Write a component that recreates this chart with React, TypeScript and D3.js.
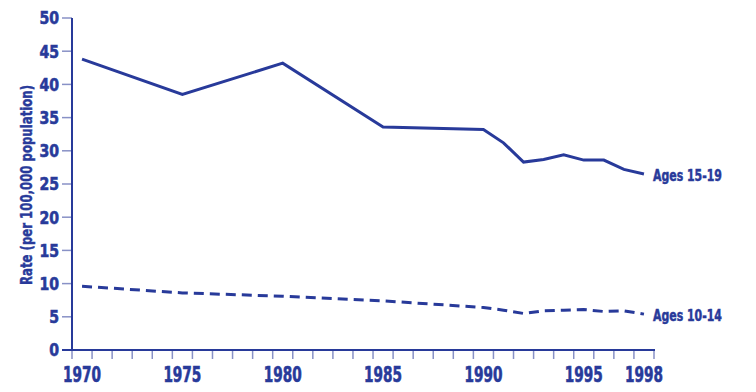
import React, { useEffect, useRef } from 'react';
import * as d3 from 'd3';

const years = [1970, 1975, 1980, 1985, 1990, 1991, 1992, 1993, 1994, 1995, 1996, 1997, 1998];
const ages1519 = [43.8, 38.5, 43.2, 33.6, 33.2, 31.2, 28.3, 28.7, 29.4, 28.6, 28.6, 27.2, 26.5];
const ages1014 = [9.6, 8.6, 8.1, 7.4, 6.4, 6.0, 5.5, 5.9, 6.0, 6.1, 5.8, 5.9, 5.4];
const yTicks = [0, 5, 10, 15, 20, 25, 30, 35, 40, 45, 50];
const xLabels = [1970, 1975, 1980, 1985, 1990, 1995, 1998];
const seriesLabels = ['Ages 15-19', 'Ages 10-14'];

const BLUE = '#283a9a';
const TICK = '#8891c6';
const FONT = '"DejaVu Sans Condensed", "Liberation Sans Narrow", sans-serif';

export default function App() {
  const ref = useRef<SVGSVGElement>(null);

  useEffect(() => {
    const svg = d3.select(ref.current);
    svg.selectAll('*').remove();

    const x = d3.scaleLinear().domain([1970, 1999]).range([72, 654]);
    const y = d3.scaleLinear().domain([0, 50]).range([350, 18]);

    // heavier look for the condensed labels
    const heavy = (sel: any) => sel
      .attr('font-family', FONT)
      .attr('font-weight', 'bold')
      .attr('fill', BLUE)
      .attr('stroke', BLUE)
      .attr('stroke-width', 0.6)
      .attr('lengthAdjust', 'spacingAndGlyphs');

    // y ticks
    svg.append('g')
      .selectAll('line')
      .data(yTicks)
      .join('line')
      .attr('x1', 62).attr('x2', 72)
      .attr('y1', d => y(d)).attr('y2', d => y(d))
      .attr('stroke', TICK).attr('stroke-width', 1.5);

    svg.append('g')
      .selectAll('text')
      .data(yTicks)
      .join('text')
      .attr('x', 59)
      .attr('y', d => y(d))
      .attr('dy', '0.36em')
      .attr('text-anchor', 'end')
      .attr('font-size', 18)
      .attr('textLength', d => String(d).length * 9.8)
      .call(heavy)
      .text(d => d);

    // x ticks, one per year
    svg.append('g')
      .selectAll('line')
      .data(d3.range(1970, 2000))
      .join('line')
      .attr('x1', d => x(d)).attr('x2', d => x(d))
      .attr('y1', 350).attr('y2', 359)
      .attr('stroke', TICK).attr('stroke-width', 1.5);

    svg.append('g')
      .selectAll('text')
      .data(xLabels)
      .join('text')
      .attr('x', d => x(d + 0.5))
      .attr('y', 382)
      .attr('text-anchor', 'middle')
      .attr('font-size', 20.5)
      .attr('textLength', 38)
      .call(heavy)
      .text(d => d);

    // axes lines
    svg.append('line')
      .attr('x1', 72).attr('x2', 72).attr('y1', 18).attr('y2', 351)
      .attr('stroke', BLUE).attr('stroke-width', 2);
    svg.append('line')
      .attr('x1', 62).attr('x2', 655).attr('y1', 350).attr('y2', 350)
      .attr('stroke', BLUE).attr('stroke-width', 1.8);

    // axis title
    svg.append('text')
      .attr('transform', 'translate(32,185) rotate(-90)')
      .attr('text-anchor', 'middle')
      .attr('font-size', 15)
      .attr('textLength', 200)
      .call(heavy)
      .attr('stroke-width', 0.4)
      .text('Rate (per 100,000 population)');

    const line = d3.line<number>()
      .x((_, i) => x(years[i] + 0.5))
      .y(d => y(d));

    svg.append('path')
      .datum(ages1519)
      .attr('d', line)
      .attr('fill', 'none')
      .attr('stroke', BLUE)
      .attr('stroke-width', 3)
      .attr('stroke-linejoin', 'miter');

    svg.append('path')
      .datum(ages1014)
      .attr('d', line)
      .attr('fill', 'none')
      .attr('stroke', BLUE)
      .attr('stroke-width', 3)
      .attr('stroke-dasharray', '10,6');

    const last = years.length - 1;
    [ages1519, ages1014].forEach((s, i) => {
      svg.append('text')
        .attr('x', x(years[last] + 0.5) + 9)
        .attr('y', y(s[last]))
        .attr('dy', '0.4em')
        .attr('font-size', 16.5)
        .attr('textLength', 69)
        .call(heavy)
        .attr('stroke-width', 0.5)
        .text(seriesLabels[i]);
    });
  }, []);

  return (
    <svg ref={ref} width={756} height={392}
      style={{ position: 'absolute', left: 0, top: 0, background: '#fff' }} />
  );
}
